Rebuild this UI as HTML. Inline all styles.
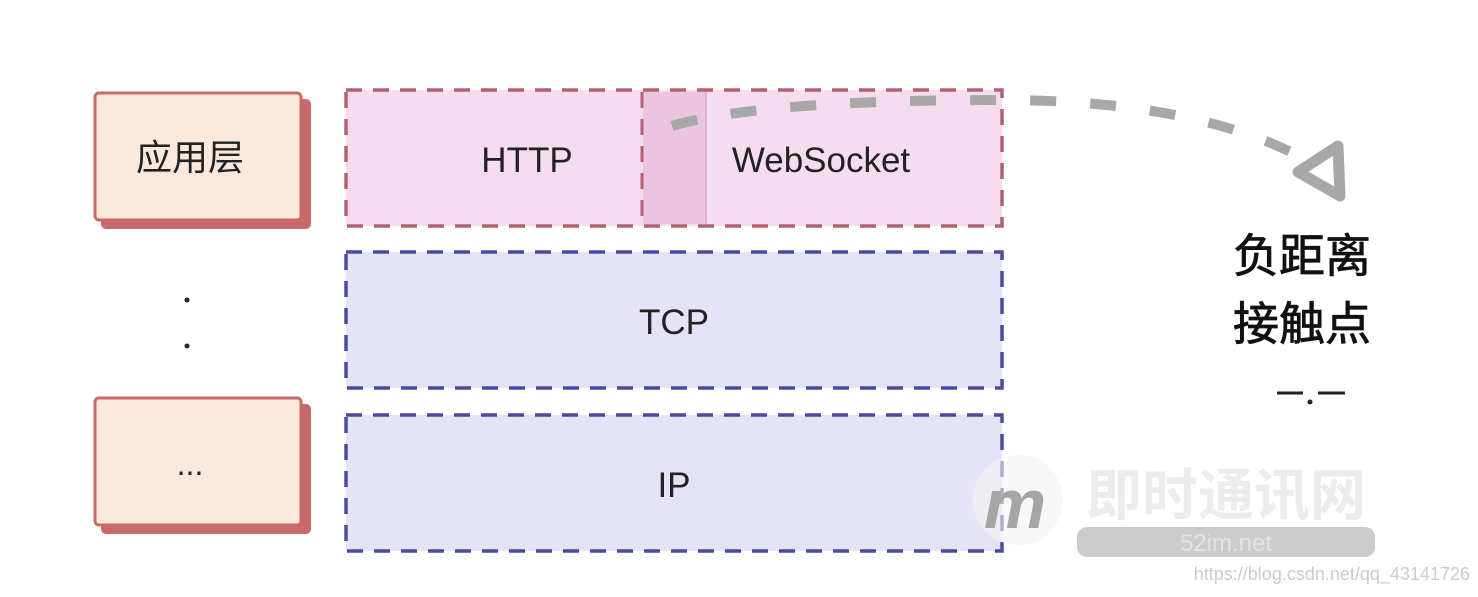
<!DOCTYPE html>
<html><head><meta charset="utf-8"><style>
body{margin:0;background:#fff;}
svg text{font-family:"Liberation Sans","Noto Sans CJK SC",sans-serif;}
</style></head><body>
<svg width="1478" height="592" viewBox="0 0 1478 592" xmlns="http://www.w3.org/2000/svg">
<rect width="1478" height="592" fill="#fff"/>
<rect x="101" y="99" width="210" height="130" rx="5" fill="#c96868"/>
<rect x="95" y="93" width="206" height="127" rx="4" fill="#f8e9dc" stroke="#c96a6a" stroke-width="3"/>
<text x="190" y="170" font-size="36" text-anchor="middle" fill="#222">应用层</text>
<rect x="101" y="404" width="210" height="130" rx="5" fill="#c96868"/>
<rect x="95" y="398" width="206" height="127" rx="4" fill="#f8e9dc" stroke="#c96a6a" stroke-width="3"/>
<text x="190" y="475" font-size="32" text-anchor="middle" fill="#222">...</text>
<circle cx="187" cy="300" r="2.5" fill="#222"/>
<circle cx="187" cy="346" r="2.5" fill="#222"/>
<rect x="346" y="90" width="656" height="136" fill="#f5dcee" stroke="#b5606e" stroke-width="3.5" stroke-dasharray="16,11"/>
<rect x="643" y="92" width="63" height="132" fill="#ebc4df"/>
<line x1="642" y1="92" x2="642" y2="224" stroke="#b5606e" stroke-width="3" stroke-dasharray="16,11"/>
<line x1="706" y1="92" x2="706" y2="224" stroke="#d9a9c8" stroke-width="1.5"/>
<text x="527" y="172" font-size="35" text-anchor="middle" fill="#222">HTTP</text>
<text x="821" y="172" font-size="35" text-anchor="middle" fill="#222">WebSocket</text>
<rect x="346" y="252" width="656" height="136" fill="#e5e3f6" stroke="#4a4aa0" stroke-width="3.5" stroke-dasharray="16,11"/>
<text x="674" y="334" font-size="35" text-anchor="middle" fill="#222">TCP</text>
<rect x="346" y="415" width="656" height="136" fill="#e5e3f6" stroke="#4a4aa0" stroke-width="3.5" stroke-dasharray="16,11"/>
<text x="674" y="497" font-size="35" text-anchor="middle" fill="#222">IP</text>
<path d="M672,126 Q760,100 1000,100 Q1200,100 1310,162" fill="none" stroke="#a8a8a8" stroke-width="10" stroke-dasharray="26,34"/>
<polygon points="1298,172 1338,146 1340,196" fill="none" stroke="#a8a8a8" stroke-width="11" stroke-linejoin="round"/>
<text x="1302" y="272" font-size="46" text-anchor="middle" fill="#111" stroke="#111" stroke-width="0.8">负距离</text>
<text x="1302" y="340" font-size="46" text-anchor="middle" fill="#111" stroke="#111" stroke-width="0.8">接触点</text>
<line x1="1277" y1="393" x2="1303" y2="393" stroke="#222" stroke-width="3"/>
<line x1="1318" y1="393" x2="1345" y2="393" stroke="#222" stroke-width="3"/>
<circle cx="1310" cy="402" r="2.5" fill="#222"/>
<circle cx="1018" cy="500" r="45" fill="#f3f3f3" opacity="0.6"/>
<text x="1015" y="528" font-size="70" font-style="italic" font-weight="bold" text-anchor="middle" fill="#a5a5a5" font-family="Liberation Serif">m</text>
<text x="1226" y="515" font-size="56" font-weight="bold" text-anchor="middle" fill="#ececec">即时通讯网</text>
<rect x="1077" y="527" width="298" height="30" rx="10" fill="#cccccc"/>
<text x="1226" y="551" font-size="24" text-anchor="middle" fill="#e2e2e2">52im.net</text>
<text x="1470" y="580" font-size="18" text-anchor="end" fill="#cbcbcb">https://blog.csdn.net/qq_43141726</text>
</svg>
</body></html>
